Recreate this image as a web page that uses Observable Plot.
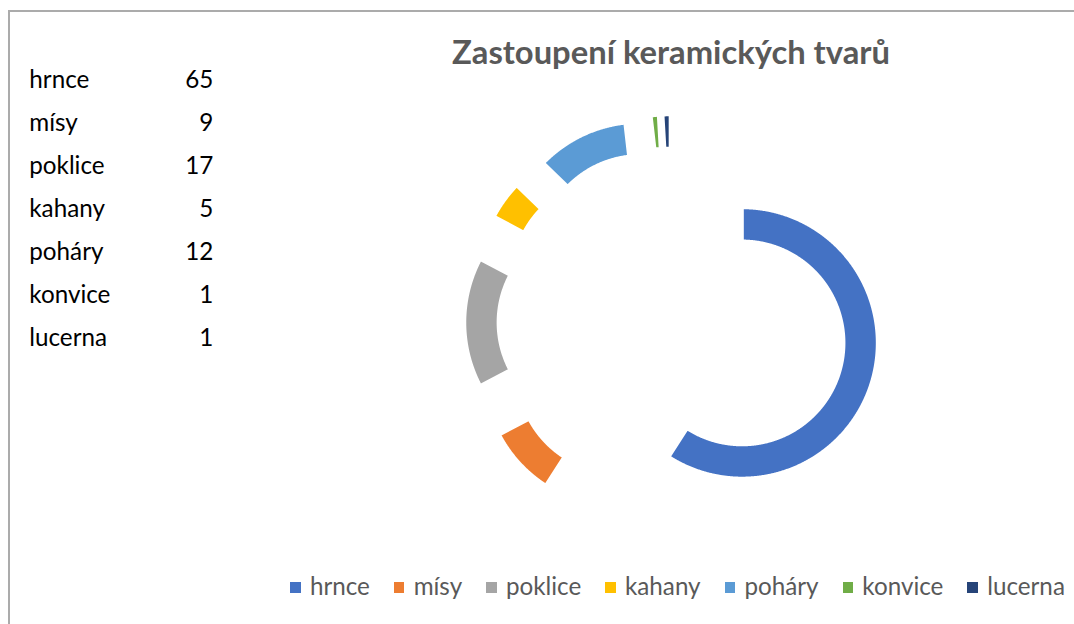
<!DOCTYPE html>
<html>
<head>
<meta charset="utf-8">
<script src="https://cdn.jsdelivr.net/npm/d3@7"></script>
<script src="https://cdn.jsdelivr.net/npm/@observablehq/plot@0.6"></script>
<style>
  html, body { margin: 0; padding: 0; background: #fff; }
  #wrap { position: relative; width: 1074px; height: 624px; overflow: hidden; background: #fff; }
  #frame { position: absolute; left: 7.5px; top: 9.5px; width: 1100px; height: 700px;
           border-left: 2px solid #ababab; border-top: 2px solid #ababab; }
  #chart { position: absolute; }
  #chart svg { display: block; background: transparent; }
</style>
</head>
<body>
<div id="wrap"><div id="frame"></div><div id="chart"></div></div>
<script>
// ---- data ----
const names  = ["hrnce", "mísy", "poklice", "kahany", "poháry", "konvice", "lucerna"];
const values = [65, 9, 17, 5, 12, 1, 1];
const colors = ["#4472C4", "#ED7D31", "#A5A5A5", "#FFC000", "#5B9BD5", "#70AD47", "#264478"];
const title  = "Zastoupení keramických tvarů";

// ---- helpers for text ----
const wrap = document.getElementById("wrap");
const FAMILY = "Lato, 'Open Sans', sans-serif";
const ctx = document.createElement("canvas").getContext("2d");
function fitSize(text, weight, target) {
  ctx.font = `${weight} 100px ${FAMILY}`;
  return 100 * target / ctx.measureText(text).width;
}
function textWidth(text, weight, size) {
  ctx.font = `${weight} ${size}px ${FAMILY}`;
  return ctx.measureText(text).width;
}
function placeText(text, x, baseline, size, weight, color, anchor) {
  ctx.font = `${weight} ${size}px ${FAMILY}`;
  const m = ctx.measureText("Hg");
  const asc = m.fontBoundingBoxAscent, desc = m.fontBoundingBoxDescent;
  const el = document.createElement("div");
  el.textContent = text;
  Object.assign(el.style, {
    position: "absolute", left: x + "px", top: (baseline - asc) + "px",
    font: `${weight} ${size}px ${FAMILY}`, lineHeight: (asc + desc) + "px",
    color, whiteSpace: "nowrap",
    transform: anchor === "end" ? "translateX(-100%)" : anchor === "middle" ? "translateX(-50%)" : "none"
  });
  wrap.appendChild(el);
}

// ---- title ----
const titleSize = fitSize(title, 700, 438);
placeText(title, 671, 64.3, titleSize, 700, "#595959", "middle");

// ---- table at left ----
const bodySize = fitSize("hrnce", 400, 60);
names.forEach((n, i) => {
  const b = 88.3 + i * 42.9;
  placeText(n, 29.3, b, bodySize, 400, "#000", "start");
  placeText(String(values[i]), 213.3, b, bodySize, 400, "#000", "end");
});

// ---- legend ----
const SQ = 10.5, GAP1 = 9.3, GAP2 = 24;
const widths = names.map(n => textWidth(n, 400, bodySize));
const total = d3.sum(widths) + names.length * (SQ + GAP1) + (names.length - 1) * GAP2;
let lx = 677.5 - total / 2;
names.forEach((n, i) => {
  const sq = document.createElement("div");
  Object.assign(sq.style, { position: "absolute", left: lx + "px", top: "582px",
    width: SQ + "px", height: SQ + "px", background: colors[i] });
  wrap.appendChild(sq);
  placeText(n, lx + SQ + GAP1, 595, bodySize, 400, "#595959", "start");
  lx += SQ + GAP1 + widths[i] + GAP2;
});

// ---- exploded doughnut ----
const HOLE = 0.75, EXPLODE = 0.535;
const arcs = d3.pie().sort(null).value(d => d)(values);
const pts = [];
arcs.forEach((a, i) => {
  const mid = (a.startAngle + a.endAngle) / 2;
  const ox = EXPLODE * Math.sin(mid), oy = EXPLODE * Math.cos(mid);
  const n = Math.max(2, Math.ceil((a.endAngle - a.startAngle) / 0.005));
  const ang = k => a.startAngle + (a.endAngle - a.startAngle) * k / n;
  for (let k = 0; k <= n; k++) pts.push({ name: names[i], x: ox + Math.sin(ang(k)), y: oy + Math.cos(ang(k)) });
  for (let k = n; k >= 0; k--) pts.push({ name: names[i], x: ox + HOLE * Math.sin(ang(k)), y: oy + HOLE * Math.cos(ang(k)) });
});

const S = 135.5, W = 560, H = 460;
const CX = 672.3, CY = 321.5;
const plot = Plot.plot({
  width: W, height: H, margin: 0,
  x: { domain: [-W / 2 / S, W / 2 / S], axis: null },
  y: { domain: [-H / 2 / S, H / 2 / S], axis: null },
  color: { domain: names, range: colors },
  marks: [
    Plot.line(pts, { x: "x", y: "y", z: "name", fill: "name", stroke: "white",
                     strokeWidth: 3.5, curve: "linear-closed" })
  ]
});
const chart = document.getElementById("chart");
chart.style.left = (CX - W / 2) + "px";
chart.style.top = (CY - H / 2) + "px";
chart.appendChild(plot);
</script>
</body>
</html>
